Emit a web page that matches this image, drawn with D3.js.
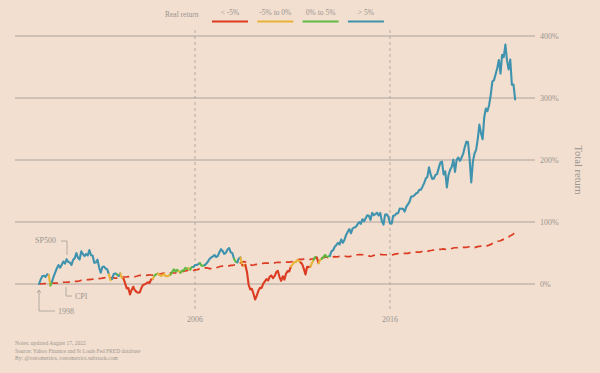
<!DOCTYPE html>
<html><head><meta charset="utf-8">
<script src="https://cdn.jsdelivr.net/npm/d3@7"></script>
<style>
html,body{margin:0;padding:0;background:#f2dfcf;}
svg{display:block;font-family:"Liberation Serif","DejaVu Serif",serif;}
</style></head>
<body>
<svg id="c" width="600" height="373"></svg>
<script>
// ---- data (monthly, Jan 1998 .. Jun 2022) ----
const startYear = 1998;
const sp500Close = [
980.28,1049.34,1101.75,1111.75,1090.82,1133.84,1120.67,957.28,1017.01,1098.67,1163.63,1229.23,
1279.64,1238.33,1286.37,1335.18,1301.84,1372.71,1328.72,1320.41,1282.71,1362.93,1388.91,1469.25,
1394.46,1366.42,1498.58,1452.43,1420.60,1454.60,1430.83,1517.68,1436.51,1429.40,1314.95,1320.28,
1366.01,1239.94,1160.33,1249.46,1255.82,1224.42,1211.23,1133.58,1040.94,1059.78,1139.45,1148.08,
1130.20,1106.73,1147.39,1076.92,1067.14,989.82,911.62,916.07,815.28,885.76,936.31,879.82,
855.70,841.15,848.18,916.92,963.59,974.50,990.31,1008.01,995.97,1050.71,1058.20,1111.92,
1131.13,1144.94,1126.21,1107.30,1120.68,1140.84,1101.72,1104.24,1114.58,1130.20,1173.82,1211.92,
1181.27,1203.60,1180.59,1156.85,1191.50,1191.33,1234.18,1220.33,1228.81,1207.01,1249.48,1248.29,
1280.08,1280.66,1294.83,1310.61,1270.09,1270.20,1276.66,1303.82,1335.85,1377.94,1400.63,1418.30,
1438.24,1406.82,1420.86,1482.37,1530.62,1503.35,1455.27,1473.99,1526.75,1549.38,1481.14,1468.36,
1378.55,1330.63,1322.70,1385.59,1400.38,1280.00,1267.38,1282.83,1166.36,968.75,896.24,903.25,
825.88,735.09,797.87,872.81,919.14,919.32,987.48,1020.62,1057.08,1036.19,1095.63,1115.10,
1073.87,1104.49,1169.43,1186.69,1089.41,1030.71,1101.60,1049.33,1141.20,1183.26,1180.55,1257.64,
1286.12,1327.22,1325.83,1363.61,1345.20,1320.64,1292.28,1218.89,1131.42,1253.30,1246.96,1257.60,
1312.41,1365.68,1408.47,1397.91,1310.33,1362.16,1379.32,1406.58,1440.67,1412.16,1416.18,1426.19,
1498.11,1514.68,1569.19,1597.57,1630.74,1606.28,1685.73,1632.97,1681.55,1756.54,1805.81,1848.36,
1782.59,1859.45,1872.34,1883.95,1923.57,1960.23,1930.67,2003.37,1972.29,2018.05,2067.56,2058.90,
1994.99,2104.50,2067.89,2085.51,2107.39,2063.11,2103.84,1972.18,1920.03,2079.36,2080.41,2043.94,
1940.24,1932.23,2059.74,2065.30,2096.95,2098.86,2173.60,2170.95,2168.27,2126.15,2198.81,2238.83,
2278.87,2363.64,2362.72,2384.20,2411.80,2423.41,2470.30,2471.65,2519.36,2575.26,2647.58,2673.61,
2823.81,2713.83,2640.87,2648.05,2705.27,2718.37,2816.29,2901.52,2913.98,2711.74,2760.17,2506.85,
2704.10,2784.49,2834.40,2945.83,2752.06,2941.76,2980.38,2926.46,2976.74,3037.56,3140.98,3230.78,
3225.52,2954.22,2584.59,2912.43,3044.31,3100.29,3271.12,3500.31,3363.00,3269.96,3621.63,3756.07,
3714.24,3811.15,3972.89,4181.17,4204.11,4297.50,4395.26,4522.68,4307.54,4605.38,4567.00,4766.18,
4515.55,4373.94,4530.41,4131.93,4132.15,3900.00
];
const cpiIndex = [
161.6,161.9,162.2,162.5,162.8,163.0,163.2,163.4,163.6,164.0,164.0,163.9,
164.3,164.5,165.0,166.2,166.2,166.2,166.7,167.1,167.9,168.2,168.3,168.3,
168.8,169.8,171.2,171.3,171.5,172.4,172.8,172.8,173.7,174.0,174.1,174.0,
175.1,175.8,176.2,176.9,177.7,178.0,177.5,177.5,178.3,177.7,177.4,176.7,
177.1,177.8,178.8,179.8,179.8,179.9,180.1,180.7,181.0,181.3,181.3,180.9,
181.7,183.1,184.2,183.8,183.5,183.7,183.9,184.6,185.2,185.0,184.5,184.3,
185.2,186.2,187.4,188.0,189.1,189.7,189.4,189.5,189.9,190.9,191.0,190.3,
190.7,191.8,193.3,194.6,194.4,194.5,195.4,196.4,198.8,199.2,197.6,196.8,
198.3,198.7,199.8,201.5,202.5,202.9,203.5,203.9,202.9,201.8,201.5,201.8,
202.4,203.5,205.4,206.7,207.9,208.4,208.3,207.9,208.5,208.9,210.2,210.0,
211.1,211.7,213.5,214.8,216.6,218.8,220.0,219.1,218.8,216.6,212.4,210.2,
211.1,212.2,212.7,213.2,213.9,215.7,215.4,215.8,216.0,216.2,216.3,215.9,
216.7,216.7,217.6,218.0,218.2,218.0,218.0,218.3,218.4,218.7,218.8,219.2,
220.2,221.3,223.5,224.9,226.0,225.7,225.9,226.5,226.9,226.4,226.2,225.7,
226.7,227.7,229.4,230.1,229.8,229.5,229.1,230.4,231.4,231.3,230.2,229.6,
230.3,232.2,232.8,232.5,232.9,233.5,233.6,233.9,234.1,233.5,233.1,233.0,
233.9,234.8,236.3,237.1,237.9,238.3,238.3,237.9,238.0,237.4,236.2,234.8,
233.7,234.7,236.1,236.6,237.8,238.6,238.7,238.3,237.9,237.8,237.3,236.5,
236.9,237.1,238.1,239.3,240.2,241.0,240.6,240.8,241.4,241.7,241.4,241.4,
242.8,243.6,243.8,244.5,244.7,245.0,244.8,245.5,246.8,246.7,246.7,246.5,
247.9,249.0,249.6,250.5,251.6,252.0,252.0,252.1,252.4,252.9,252.0,251.2,
251.7,252.8,254.2,255.5,256.1,256.1,256.6,256.6,256.8,257.3,257.2,257.0,
258.0,258.7,258.1,256.4,256.4,257.8,259.1,259.9,260.3,260.4,260.2,260.5,
261.6,263.0,264.9,267.1,269.2,271.7,273.0,273.6,274.3,276.6,277.9,278.8,
281.1,283.7,287.5,289.1,292.3,296.3
];
const yTicks = [0, 1, 2, 3, 4];
const yTickLabels = ["0%", "100%", "200%", "300%", "400%"];
const xTicks = [2006, 2016];
const legendLabels = ["< -5%", "-5% to 0%", "0% to 5%", "> 5%"];
const legendColors = ["#dc3b21", "#e9b33a", "#5fb944", "#3f93ae"];
const realBreaks = [-0.05, 0, 0.05];
const notes = [
  "Notes: updated August 17, 2022",
  "Source: Yahoo Finance and St Louis Fed FRED database",
  "By: @rostometrics, rostometrics.substack.com"
];

// ---- derived ----
const data = sp500Close.map((v, i) => {
  const sp = v / sp500Close[0] - 1;
  const cpi = cpiIndex[i] / cpiIndex[0] - 1;
  const real = (1 + sp) / (1 + cpi) - 1;
  return {t: startYear + i / 12, sp, cpi, real};
});
const cls = d3.scaleThreshold().domain(realBreaks).range([0, 1, 2, 3]);

const svg = d3.select("#c");
const x = d3.scaleLinear().domain([1998, 2016]).range([39, 390]);
const y = d3.scaleLinear().domain([0, 4]).range([284, 36]);
const gray = "#9a9490";

// grid
svg.append("g").selectAll("line").data(yTicks).join("line")
  .attr("x1", 15).attr("x2", 535)
  .attr("y1", d => y(d)).attr("y2", d => y(d))
  .attr("stroke", "#a59d97").attr("stroke-width", 0.9);
svg.append("g").selectAll("text").data(yTicks).join("text")
  .attr("x", 540).attr("y", d => y(d) + 3)
  .attr("font-size", 8).attr("fill", gray)
  .text((d, i) => yTickLabels[i]);

// vertical year markers
svg.append("g").selectAll("line").data(xTicks).join("line")
  .attr("x1", d => x(d)).attr("x2", d => x(d))
  .attr("y1", 30).attr("y2", 310)
  .attr("stroke", "#b0a69f").attr("stroke-width", 0.9).attr("stroke-dasharray", "3,3");
svg.append("g").selectAll("text").data(xTicks).join("text")
  .attr("x", d => x(d)).attr("y", 322).attr("text-anchor", "middle")
  .attr("font-size", 8).attr("fill", gray).text(d => d);

// y title
svg.append("text").attr("transform", "translate(575,170) rotate(90)")
  .attr("text-anchor", "middle").attr("font-size", 10.5).attr("fill", gray)
  .text("Total return");

// CPI line
const line = d3.line().x(d => x(d.t));
svg.append("path").datum(data)
  .attr("d", line.y(d => y(d.cpi)))
  .attr("fill", "none").attr("stroke", "#dc3b21").attr("stroke-width", 1.7)
  .attr("stroke-dasharray", "7,5");

// SP500 coloured segments
const spLine = d3.line().x(d => x(d.t)).y(d => y(d.sp));
const runs = [];
data.forEach((d, i) => {
  if (i === 0) return;
  const c = cls(d.real);
  const last = runs[runs.length - 1];
  if (last && last.c === c) last.pts.push(d);
  else runs.push({c, pts: [data[i - 1], d]});
});
svg.append("g").selectAll("path").data(runs).join("path")
  .attr("d", r => spLine(r.pts))
  .attr("fill", "none").attr("stroke", r => legendColors[r.c])
  .attr("stroke-width", 2.1).attr("stroke-linejoin", "round").attr("stroke-linecap", "round");

// legend
svg.append("text").attr("x", 165).attr("y", 17).attr("font-size", 7.5).attr("fill", gray).text("Real return");
const lg = svg.append("g").selectAll("g").data(legendLabels).join("g")
  .attr("transform", (d, i) => `translate(${230 + i * 45.3},0)`);
lg.append("text").attr("y", 15).attr("text-anchor", "middle").attr("font-size", 7.5).attr("fill", gray).text(d => d);
lg.append("line").attr("x1", -18).attr("x2", 18).attr("y1", 21.5).attr("y2", 21.5)
  .attr("stroke", (d, i) => legendColors[i]).attr("stroke-width", 2);

// annotations
const ann = svg.append("g").attr("fill", "none").attr("stroke", "#a59d97").attr("stroke-width", 0.8);
ann.append("path").attr("d", "M61,241H67V255");
ann.append("path").attr("d", "M66,287V296H72");
ann.append("path").attr("d", "M39,290V311H55");
ann.append("path").attr("d", "M37,293L39,290L41,293");
svg.append("text").attr("x", 35).attr("y", 243).attr("font-size", 8).attr("fill", gray).text("SP500");
svg.append("text").attr("x", 75).attr("y", 299).attr("font-size", 8).attr("fill", gray).text("CPI");
svg.append("text").attr("x", 58).attr("y", 314).attr("font-size", 8).attr("fill", gray).text("1998");

// notes
svg.append("g").selectAll("text").data(notes).join("text")
  .attr("x", 15).attr("y", (d, i) => 345 + i * 7.5)
  .attr("font-size", 5.5).attr("fill", "#a0968f").text(d => d);
</script>
</body></html>
